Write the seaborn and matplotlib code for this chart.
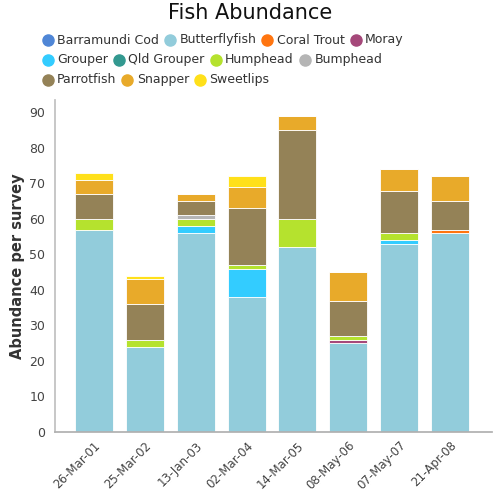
import matplotlib
matplotlib.use("Agg")
import matplotlib.pyplot as plt
import seaborn as sns
import pandas as pd
import numpy as np
from matplotlib.lines import Line2D

dates = ["26-Mar-01", "25-Mar-02", "13-Jan-03", "02-Mar-04",
         "14-Mar-05", "08-May-06", "07-May-07", "21-Apr-08"]

species = ["Barramundi Cod", "Butterflyfish", "Coral Trout", "Moray",
           "Grouper", "Qld Grouper", "Humphead", "Bumphead",
           "Parrotfish", "Snapper", "Sweetlips"]

barramundi_cod = [0, 0, 0, 0, 0, 0, 0, 0]
butterflyfish = [57, 24, 56, 38, 52, 25, 53, 56]
coral_trout = [0, 0, 0, 0, 0, 0, 0, 1]
moray = [0, 0, 0, 0, 0, 1, 0, 0]
grouper = [0, 0, 2, 8, 0, 0, 1, 0]
qld_grouper = [0, 0, 0, 0, 0, 0, 0, 0]
humphead = [3, 2, 2, 1, 8, 1, 2, 0]
bumphead = [0, 0, 1, 0, 0, 0, 0, 0]
parrotfish = [7, 10, 4, 16, 25, 10, 12, 8]
snapper = [4, 7, 2, 6, 4, 8, 6, 7]
sweetlips = [2, 1, 0, 3, 0, 0, 0, 0]

series = [barramundi_cod, butterflyfish, coral_trout, moray, grouper,
          qld_grouper, humphead, bumphead, parrotfish, snapper, sweetlips]

colors = ["#4f86d6", "#92ccdb", "#ff7510", "#a5487a", "#33ccff",
          "#339990", "#b5e22e", "#b5b5b5", "#948257", "#e8aa2a", "#ffe01a"]

sns.set_theme(style="white")
plt.rcParams['font.family'] = ['DejaVu Sans']

W = H = 500
fig = plt.figure(figsize=(5, 5), dpi=100)
ax = fig.add_axes([0.11, 0.136, 0.874, 0.664])

bottom = np.zeros(len(dates))
for name, vals, col in zip(species, series, colors):
    df = pd.DataFrame({"date": dates, "value": vals})
    sns.barplot(data=df, x="date", y="value", color=col, ax=ax,
                bottom=bottom, width=0.75, edgecolor="#ffffff",
                linewidth=0.6, saturation=1, errorbar=None)
    bottom = bottom + np.array(vals)

ax.set_ylim(0, 93.5)
ax.set_xlim(-0.77, 7.83)
ax.set_yticks(range(0, 100, 10))
ax.set_xlabel("")
ax.set_ylabel("Abundance per survey", fontsize=10.5, fontweight="bold",
              color="#333333")
ax.yaxis.set_label_coords(-0.068, 0.5)
ax.tick_params(axis="y", labelsize=9, colors="#444444", length=0, pad=7)
ax.tick_params(axis="x", labelsize=8.5, colors="#444444", length=0, pad=5)
for lbl in ax.get_xticklabels():
    lbl.set_rotation(45)
    lbl.set_ha("right")
    lbl.set_rotation_mode("anchor")
for s in ["top", "right"]:
    ax.spines[s].set_visible(False)
ax.spines["left"].set_color("#c0c0c0")
ax.spines["bottom"].set_color("#b0b0b0")
ax.grid(False)

fig.text(0.5, 1 - 13 / H, "Fish Abundance", ha="center", va="center",
         fontsize=15, color="#111111")

rows = [species[0:4], species[4:8], species[8:11]]
crow = [colors[0:4], colors[4:8], colors[8:11]]
ys_px = [40, 59.5, 79.5]
renderer = fig.canvas.get_renderer()
for r, cr, ypx in zip(rows, crow, ys_px):
    xpx = 47.5
    y = 1 - ypx / H
    for name, c in zip(r, cr):
        fig.add_artist(Line2D([xpx / W], [y], marker="o", linestyle="",
                              markersize=8, markerfacecolor=c,
                              markeredgecolor=c, transform=fig.transFigure))
        t = fig.text((xpx + 9.5) / W, y, name, fontsize=9, color="#333333",
                     va="center", ha="left")
        bb = t.get_window_extent(renderer=renderer)
        xpx = bb.x1 + 11

fig.savefig("out.png", dpi=100)
